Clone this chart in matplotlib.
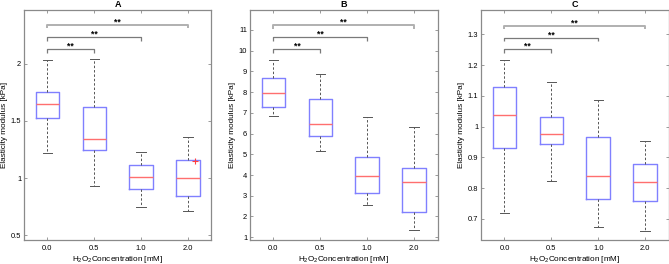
import matplotlib
matplotlib.use('Agg')
import matplotlib.pyplot as plt
from matplotlib.ticker import FormatStrFormatter

plt.rcParams['font.family'] = ['Liberation Sans', 'DejaVu Sans']
plt.rcParams['mathtext.fontset'] = 'custom'
plt.rcParams['mathtext.rm'] = 'Liberation Sans'
plt.rcParams['mathtext.it'] = 'Liberation Sans:italic'

groups = ['0.0', '0.5', '1.0', '2.0']
titles = ['A', 'B', 'C']

# Panel A
A_whislo = [1.22, 0.927, 0.747, 0.712]
A_q1 = [1.525, 1.242, 0.905, 0.846]
A_med = [1.648, 1.342, 1.010, 0.997]
A_q3 = [1.752, 1.620, 1.115, 1.158]
A_whishi = [2.030, 2.040, 1.228, 1.359]
A_fliers = [[], [], [], [1.15]]
A_brackets = [2.128, 2.233, 2.340]
A_ylim = (0.462, 2.47)
A_yticks = [0.5, 1, 1.5, 2]

# Panel B
B_whislo = [6.87, 5.16, 2.57, 1.34]
B_q1 = [7.28, 5.90, 3.14, 2.22]
B_med = [7.94, 6.46, 3.96, 3.65]
B_q3 = [8.66, 7.66, 4.87, 4.36]
B_whishi = [9.56, 8.85, 6.81, 6.30]
B_fliers = [[], [], [], []]
B_brackets = [10.07, 10.65, 11.23]
B_ylim = (0.89, 11.96)
B_yticks = list(range(1, 12))

# Panel C
C_whislo = [0.719, 0.823, 0.674, 0.662]
C_q1 = [0.931, 0.944, 0.765, 0.758]
C_med = [1.038, 0.976, 0.840, 0.819]
C_q3 = [1.128, 1.030, 0.967, 0.880]
C_whishi = [1.217, 1.146, 1.088, 0.952]
C_fliers = [[], [], [], []]
C_brackets = [1.252, 1.289, 1.328]
C_ylim = (0.633, 1.379)
C_yticks = [0.7, 0.8, 0.9, 1.0, 1.1, 1.2, 1.3]

bracket_pairs = [(0, 1), (0, 2), (0, 3)]

panels = [
    (A_whislo, A_q1, A_med, A_q3, A_whishi, A_fliers, A_brackets, A_ylim, A_yticks),
    (B_whislo, B_q1, B_med, B_q3, B_whishi, B_fliers, B_brackets, B_ylim, B_yticks),
    (C_whislo, C_q1, C_med, C_q3, C_whishi, C_fliers, C_brackets, C_ylim, C_yticks),
]

W, H = 669, 264
fig = plt.figure(figsize=(W / 100, H / 100), dpi=100)
lefts = [24, 250, 481]
axw = 187.5
bottom_px = 239.5
top_px = 10

spine_col = '#8a8a8a'
box_col = '#8080ff'
med_col = '#ff6f6f'
wh_col = '#555555'

for i, (wlo, q1, med, q3, whi, fl, br, ylim, yt) in enumerate(panels):
    ax = fig.add_axes([lefts[i] / W, 1 - bottom_px / H, axw / W, (bottom_px - top_px) / H])
    stats = []
    for j in range(len(groups)):
        stats.append(dict(whislo=wlo[j], q1=q1[j], med=med[j], q3=q3[j],
                          whishi=whi[j], fliers=fl[j], label=groups[j]))
    positions = list(range(1, len(groups) + 1))
    res = ax.bxp(stats, positions=positions, widths=0.5, showfliers=True,
                 boxprops=dict(color=box_col, linewidth=1.0),
                 medianprops=dict(color=med_col, linewidth=1.0),
                 whiskerprops=dict(color=wh_col, linewidth=0.7, linestyle=(0, (2.5, 2))),
                 capprops=dict(color=wh_col, linewidth=0.7),
                 capwidths=0.2,
                 flierprops=dict(marker='+', markeredgecolor='#ff4040', markersize=5,
                                 markeredgewidth=0.8, linestyle='none'))
    for fline in res['fliers']:
        xd = fline.get_xdata()
        if len(xd):
            fline.set_xdata([x + 0.15 for x in xd])
    ax.set_xlim(0.5, len(groups) + 0.5)
    ax.set_ylim(*ylim)
    ax.set_yticks(yt)
    ax.yaxis.set_major_formatter(FormatStrFormatter('%g'))
    ax.set_xticks(positions)
    ax.set_xticklabels(groups)
    ax.tick_params(direction='in', length=2.5, width=0.6, color=spine_col,
                   labelsize=5.4, top=True, right=True)
    ax.tick_params(axis='x', pad=4)
    ax.tick_params(axis='y', pad=2)
    for s in ax.spines.values():
        s.set_color(spine_col)
        s.set_linewidth(0.9)
    ax.set_title(titles[i], fontsize=6.5, fontweight='bold', pad=2)
    ax.set_ylabel('Elasticity modulus [kPa]', fontsize=5.9, labelpad=2)
    ax.set_xlabel('H$_2$O$_2$Concentration [mM]', fontsize=5.9, labelpad=1.5)

    drop = (ylim[1] - ylim[0]) * 0.015
    for k, (a, b) in enumerate(bracket_pairs):
        y = br[k]
        xa, xb = positions[a], positions[b]
        col = '#7a7a7a' if k < 2 else '#b0b0b0'
        lw = 0.9 if k < 2 else 1.4
        ax.plot([xa, xa, xb, xb], [y - drop, y, y, y - drop], color=col, lw=lw,
                solid_capstyle='butt')
        ax.annotate('**', xy=((xa + xb) / 2, y), xytext=(0, 2.2), textcoords='offset points',
                    ha='center', va='center', fontsize=6.2, fontweight='bold')

fig.savefig('out.png', dpi=100)
